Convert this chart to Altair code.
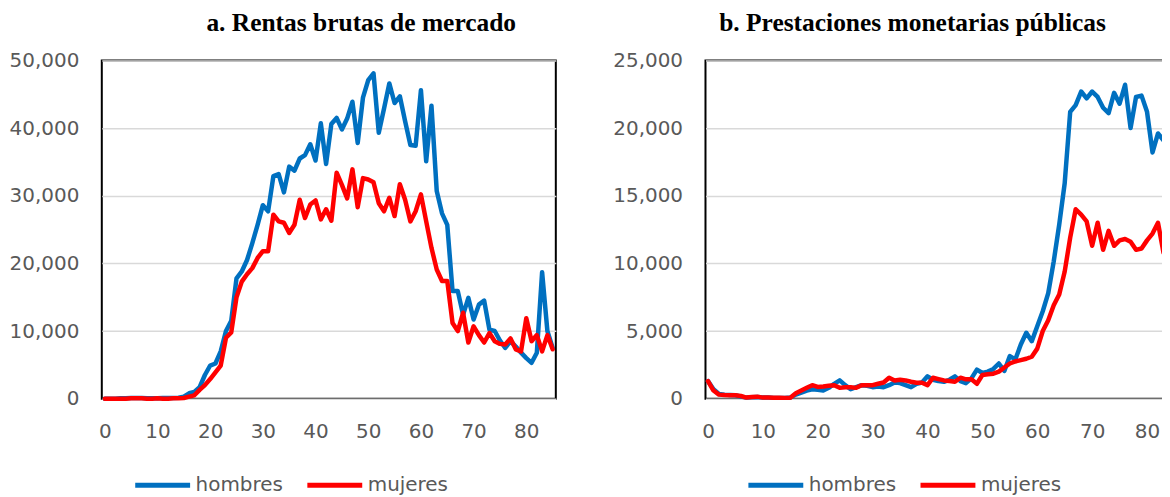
import altair as alt
import pandas as pd

ages = list(range(86))

rentas_hombres = [0, 0, 0, 50, 50, 100, 100, 100, 50, 50,
                  50, 100, 100, 100, 150, 300, 800, 1000, 1700, 3500,
                  4900, 5200, 7000, 10000, 11500, 17800, 18800, 20500, 23000, 25700,
                  28600, 27700, 32900, 33200, 30500, 34300, 33700, 35500, 36000, 37600,
                  35200, 40700, 34700, 40600, 41500, 39800, 41400, 43900, 37800, 44500,
                  47100, 48100, 39300, 42900, 46600, 43700, 44700, 41000, 37500, 37400,
                  45600, 35100, 43300, 30700, 27400, 25700, 15900, 15900, 12400, 14900,
                  11700, 13900, 14500, 10200, 10000, 8600, 7500, 8500, 7700, 6800,
                  6000, 5300, 6800, 18700, 10000, 7500]

rentas_mujeres = [0, 0, 0, 0, 0, 50, 50, 50, 0, 0,
                  50, 0, 0, 50, 50, 100, 300, 500, 1300, 2000,
                  2900, 3900, 4900, 9000, 9800, 15000, 17300, 18400, 19300, 20800,
                  21800, 21800, 27200, 26200, 26000, 24500, 25700, 29400, 26700, 28700,
                  29300, 26500, 28000, 26300, 33400, 31600, 29600, 33900, 28300, 32600,
                  32400, 32000, 28900, 27700, 29700, 27000, 31700, 29400, 26200, 27700,
                  30200, 26200, 22300, 19100, 17400, 17400, 11200, 10000, 12700, 8300,
                  10700, 9400, 8300, 9700, 8500, 8100, 8000, 8900, 7300, 7000,
                  11900, 8500, 9400, 7000, 9400, 7300]

prest_hombres = [1300, 700, 350, 300, 280, 250, 150, 80, 100, 120,
                 80, 80, 60, 60, 60, 80, 300, 450, 600, 700,
                 650, 600, 800, 1100, 1350, 1000, 700, 850, 1000, 950,
                 850, 900, 850, 1000, 1200, 1150, 1000, 850, 1100, 1200,
                 1650, 1400, 1300, 1250, 1400, 1650, 1300, 1150, 1500, 2150,
                 1900, 2000, 2200, 2600, 2050, 3150, 2900, 4000, 4870, 4250,
                 5360, 6460, 7800, 10150, 12860, 15930, 21200, 21700, 22700, 22200,
                 22700, 22300, 21500, 21100, 22600, 21800, 23200, 20000, 22300, 22400,
                 21200, 18200, 19600, 19100, 19700, 18200]

prest_mujeres = [1300, 600, 300, 270, 250, 250, 200, 80, 120, 150,
                 80, 80, 70, 70, 60, 70, 400, 600, 800, 1000,
                 870, 900, 950, 1000, 800, 850, 850, 800, 1000, 1000,
                 1000, 1100, 1200, 1550, 1350, 1400, 1350, 1250, 1180, 1180,
                 1000, 1550, 1450, 1350, 1300, 1250, 1550, 1430, 1430, 1100,
                 1750, 1800, 1850, 2000, 2300, 2600, 2750, 2850, 2950, 3100,
                 3700, 5000, 5800, 6900, 7700, 9400, 11900, 14000, 13600, 13100,
                 11300, 13000, 11000, 12400, 11300, 11700, 11800, 11600, 11000, 11100,
                 11700, 12200, 13000, 10800, 11900, 12300]

series = ["hombres", "mujeres"]
colors = ["#0070C0", "#FF0000"]
titles = ["a. Rentas brutas de mercado", "b. Prestaciones monetarias públicas"]
x_ticks = [0, 10, 20, 30, 40, 50, 60, 70, 80]
y_ticks_a = [0, 10000, 20000, 30000, 40000, 50000]
y_ticks_b = [0, 5000, 10000, 15000, 20000, 25000]

FONT = "DejaVu Sans"
GREY = "#595959"
LEGEND_SYMBOL = "M-2.75,0L2.75,0"


def long_df(h, m):
    return pd.DataFrame({
        "edad": ages + ages,
        "valor": h + m,
        "sexo": [series[0]] * len(ages) + [series[1]] * len(ages),
    })


def panel(df, title, yticks, width, xdom, legend_x, title_dx):
    return (
        alt.Chart(df, title=alt.TitleParams(title, dx=title_dx))
        .mark_line(strokeWidth=4.5, strokeJoin="round", strokeCap="round")
        .encode(
            x=alt.X("edad:Q",
                    scale=alt.Scale(domain=xdom, nice=False, zero=False),
                    axis=alt.Axis(values=x_ticks, grid=False, ticks=False, tickSize=0,
                                  domain=False, labelPadding=22.5, title=None,
                                  labelFont=FONT, labelFontSize=20, labelColor=GREY)),
            y=alt.Y("valor:Q",
                    scale=alt.Scale(domain=[yticks[0], yticks[-1]], nice=False),
                    axis=alt.Axis(values=yticks, format=",d", grid=True, gridColor="#d9d9d9",
                                  gridWidth=1.5, ticks=False, tickSize=0, domain=False,
                                  labelPadding=23, title=None, labelFont=FONT,
                                  labelFontSize=20, labelColor=GREY)),
            color=alt.Color("sexo:N",
                            scale=alt.Scale(domain=series, range=colors),
                            legend=alt.Legend(orient="none", legendX=legend_x, legendY=413,
                                              direction="horizontal", title=None,
                                              symbolType=LEGEND_SYMBOL, symbolSize=400,
                                              symbolStrokeWidth=5, labelFont=FONT,
                                              labelFontSize=20, labelColor=GREY,
                                              labelOffset=20.5, columnPadding=13.5,
                                              padding=0)),
        )
        .properties(width=width, height=339)
    )


left = panel(long_df(rentas_hombres, rentas_mujeres), titles[0], y_ticks_a,
             455, [-0.568, 85.6], 48.5, 32.5)
right = panel(long_df(prest_hombres, prest_mujeres), titles[1], y_ticks_b,
              475, [-0.4545, 85.91], 58, -30)

chart = (
    alt.hconcat(left, right, spacing=55)
    .resolve_scale(color="independent")
    .properties(padding={"left": 0, "top": 1, "right": -18.5, "bottom": 0},
                background="white")
    .configure_view(stroke="black", strokeWidth=2)
    .configure_title(font="Liberation Serif", fontWeight="bold", fontSize=25.5,
                     color="black", anchor="middle", baseline="alphabetic", offset=14)
)

chart.save("out.html", embed_options={"renderer": "svg", "actions": False})
